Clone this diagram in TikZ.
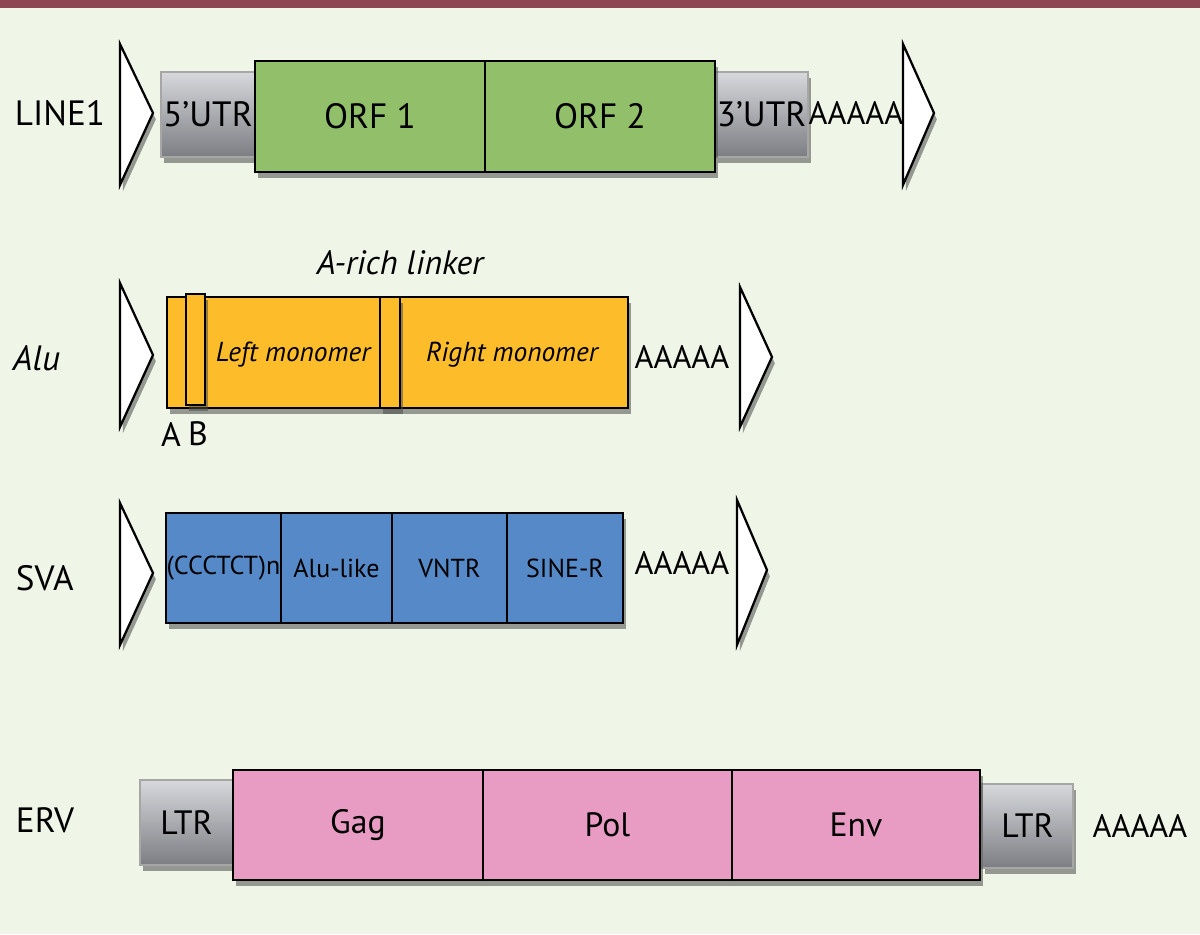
\documentclass[tikz,border=0pt]{standalone}
\usepackage{fontspec}
\setmainfont{PT Sans}
\usepackage{tikz}
\usepackage{xcolor}
\usetikzlibrary{positioning, shadows}

\definecolor{bgcol}{HTML}{EFF5E7}
\definecolor{barcol}{HTML}{8E4652}
\definecolor{orfcol}{HTML}{92C06A}
\definecolor{alucol}{HTML}{FDBD2B}
\definecolor{svacol}{HTML}{5589C8}
\definecolor{ervcol}{HTML}{E89BC3}
\definecolor{utrtop}{HTML}{D7D8DC}
\definecolor{utrbot}{HTML}{7D7E83}

\begin{document}
\begin{tikzpicture}[x=0.025cm, y=-0.025cm,
    shade/.style={drop shadow={shadow xshift=2pt, shadow yshift=-4.5pt, opacity=0.55, fill=black!70}},
    seg/.style={draw, line width=1.5pt, inner sep=0pt, minimum height=2.75cm, shade},
    utr/.style={draw=gray!70, line width=0.8pt, top color=utrtop, bottom color=utrbot,
        inner sep=0pt, minimum height=2.125cm, shade},
    tri/.style={draw, line width=1.6pt, fill=white, line join=miter, shade},
    rowlab/.style={font=\fontsize{25}{27}\selectfont},
    big/.style={font=\fontsize{25}{27}\selectfont},
    mid/.style={font=\fontsize{24}{26}\selectfont},
    small/.style={font=\fontsize{18.5}{20}\selectfont},
    mono/.style={font=\fontsize{19.5}{21}\selectfont\itshape},
    polyA/.style={font=\fontsize{23}{25}\selectfont}]

% background
\fill[bgcol] (0,0) rectangle (1200,934);
\fill[barcol] (0,0) rectangle (1200,8);

% LINE1
\node[rowlab, anchor=west] (lline) at (10,113) {LINE1};
\draw[tri] (120,44) -- (153,113) -- (120,185) -- cycle;
\node[utr, big, minimum width=2.35cm] (utr5) at (208,114.5) {5’UTR};
\node[utr, big, minimum width=2.325cm] (utr3) at (761.5,114.5) {3’UTR};
\node[seg, big, fill=orfcol, minimum width=5.75cm, minimum height=2.775cm] (orf1) at (370,116.5) {ORF 1};
\node[seg, big, fill=orfcol, minimum width=5.75cm, minimum height=2.775cm] (orf2) at (600,116.5) {ORF 2};
\node[polyA] (polyline) at (856,113) {AAAAA};
\draw[tri] (903,44) -- (934,113) -- (903,185) -- cycle;

% Alu
\node[rowlab, anchor=west] (lalu) at (8,358) {\itshape Alu};
\draw[tri] (120,283) -- (153,355) -- (120,427) -- cycle;
\node[seg, fill=alucol, minimum width=11.525cm, minimum height=2.775cm] (alu) at (397.5,352.5) {};
\node[seg, fill=alucol, minimum width=0.475cm, minimum height=2.775cm] (boxb) at (195.5,349.5) {};
\node[seg, fill=alucol, minimum width=0.5cm, minimum height=2.775cm] (linker) at (390,352.5) {};
\node[mono] (leftmono) at (293,355) {Left monomer};
\node[mono] (rightmono) at (512,355) {Right monomer};
\node[font=\fontsize{24}{26}\selectfont\itshape] (linklab) at (400,263) {A-rich linker};
\node[mid] (laba) at (171,434) {A};
\node[mid] (labb) at (198,434) {B};
\node[polyA] (polyalu) at (682,357) {AAAAA};
\draw[tri] (740,287) -- (772,357) -- (740,427) -- cycle;

% SVA
\node[rowlab, anchor=west] (lsva) at (11,578) {SVA};
\draw[tri] (120,503) -- (153,573) -- (120,645) -- cycle;
\node[seg, small, fill=svacol, minimum width=2.875cm] (ccctct) at (223.5,568) {(CCCTCT)n};
\node[seg, small, fill=svacol, minimum width=2.775cm] (alulike) at (336.5,568) {Alu-like};
\node[seg, small, fill=svacol, minimum width=2.875cm] (vntr) at (449.5,568) {VNTR};
\node[seg, small, fill=svacol, minimum width=2.9cm] (siner) at (565,568) {SINE-R};
\node[polyA] (polysva) at (682,563) {AAAAA};
\draw[tri] (737,500) -- (767,570) -- (737,645) -- cycle;

% ERV
\node[rowlab, anchor=west] (lerv) at (11,820) {ERV};
\node[utr, mid, minimum width=2.325cm] (ltrl) at (186.5,822.5) {LTR};
\node[utr, mid, minimum width=2.275cm, minimum height=2.1cm] (ltrr) at (1027.5,826) {LTR};
\node[seg, mid, fill=ervcol, minimum width=6.25cm] (gag) at (358,825) {Gag};
\node[seg, mid, fill=ervcol, minimum width=6.225cm] (pol) at (607.5,825) {Pol};
\node[seg, mid, fill=ervcol, minimum width=6.2cm] (env) at (856,825) {Env};
\node[polyA] (polyerv) at (1140,826) {AAAAA};
\end{tikzpicture}
\end{document}
